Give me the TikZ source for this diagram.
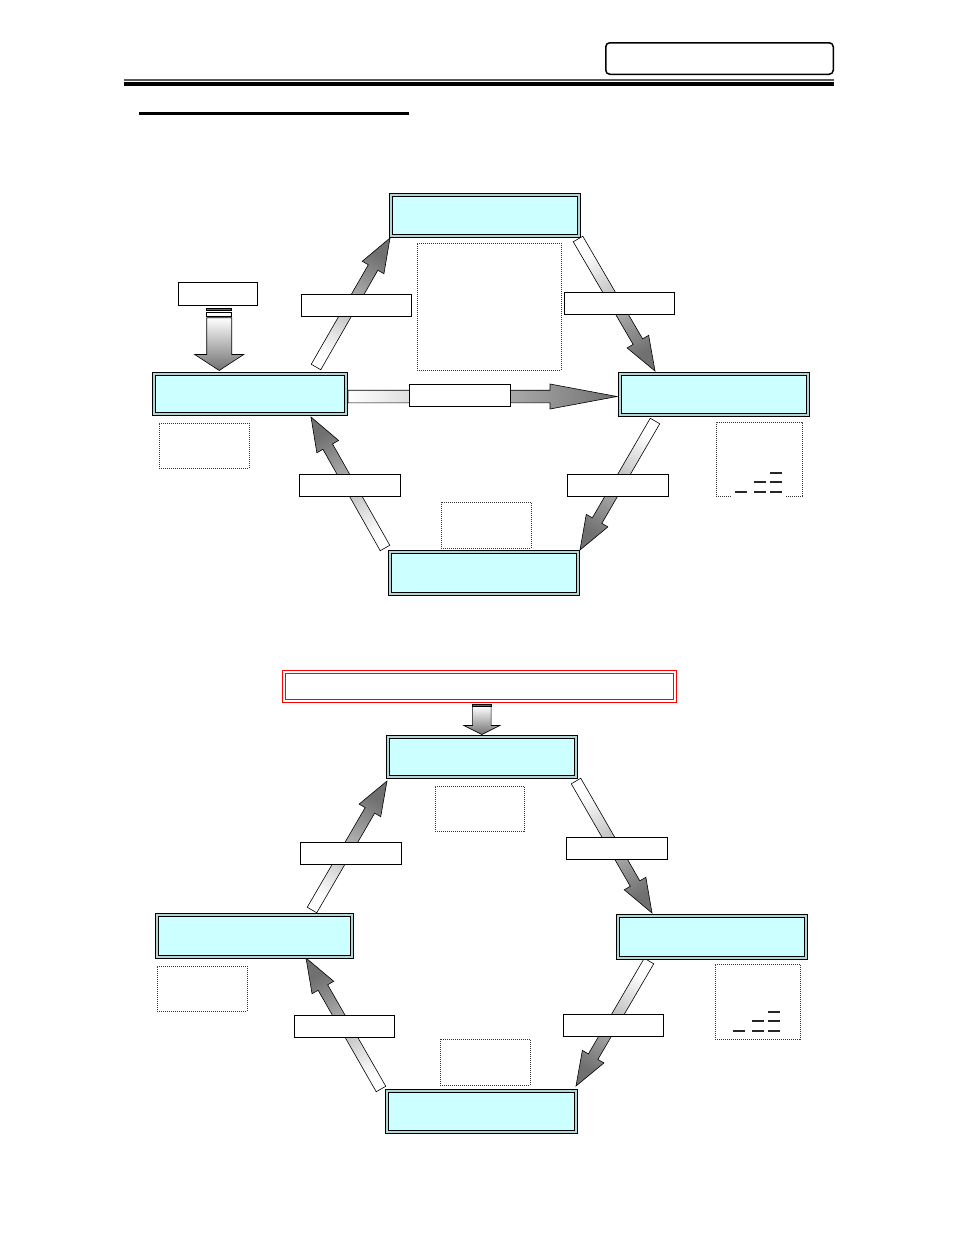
\documentclass[tikz,border=0pt]{standalone}
\usetikzlibrary{calc}
\definecolor{boxcyan}{HTML}{CCFFFF}
\definecolor{gapcyan}{HTML}{B4D6D6}
\definecolor{arrhead}{HTML}{707070}
\tikzset{
  stagebox/.style={draw=black, line width=1.3pt, double=gapcyan, double distance=1.5pt,
    fill=boxcyan, inner sep=0pt},
  redbox/.style={draw=red, line width=1.1pt, double=white, double distance=1.8pt,
    fill=white, inner sep=0pt},
  labelbox/.style={draw=black, line width=1.2pt, fill=white, inner sep=0pt},
  dotbox/.style={draw=black!80, line width=1pt, dash pattern=on 1pt off 1pt, inner sep=0pt},
  dotline/.style={draw=black!80, line width=1pt, dash pattern=on 1pt off 1pt},
  levelbar/.style={draw=black!85, line width=2.2pt},
}
\newcommand\blockarrow[6]{%
  \coordinate (hb) at ($(#2)!#5!(#1)$);
  \draw[line width=0.6pt, top color=arrhead, bottom color=white, shading angle=#6]
    ($(#1)!#3!90:(#2)$) -- ($(hb)!#3!90:(#2)$) -- ($(hb)!#4!90:(#2)$) -- (#2)
    -- ($(hb)!#4!-90:(#2)$) -- ($(hb)!#3!-90:(#2)$) -- ($(#1)!#3!-90:(#2)$) -- cycle;
}
\begin{document}
\begin{tikzpicture}[x=1pt,y=-1pt]
\useasboundingbox (0,0) rectangle (954,1235);
\fill[white] (0,0) rectangle (954,1235);

% ---------- header ----------
\node[draw, line width=1.5pt, rounded corners=4pt, minimum width=227.5pt, minimum height=31.5pt, inner sep=0pt] (hdr) at (719.5,58.5) {};
\draw[line width=1.7pt, black!65] (124,79.8) -- (834,79.8);
\draw[line width=4pt] (124,83.7) -- (834,83.7);
\draw[line width=2.3pt] (139,113.5) -- (409,113.5);

% ---------- upper cycle: coordinates ----------
\coordinate (t1) at (316,367);   \coordinate (h1) at (390,238);
\coordinate (t2) at (578,239);   \coordinate (h2) at (655,371);
\coordinate (t3) at (655,421);   \coordinate (h3) at (580,550);
\coordinate (t4) at (385,548);   \coordinate (h4) at (311,417);
\coordinate (t5) at (348,396.5); \coordinate (h5) at (617,396.5);
\coordinate (t6) at (219.2,317.7); \coordinate (h6) at (219.2,370.5);

% arrows
\blockarrow{t1}{h1}{5.5pt}{12.5pt}{34pt}{-29.8}
\blockarrow{t2}{h2}{5.5pt}{12.5pt}{34pt}{-149.7}
\blockarrow{t3}{h3}{5.5pt}{12.5pt}{34pt}{149.8}
\blockarrow{t4}{h4}{5.5pt}{12.5pt}{34pt}{29.5}
\blockarrow{t5}{h5}{6.3pt}{12.5pt}{67pt}{-90}
\blockarrow{t6}{h6}{12.5pt}{24.5pt}{16pt}{-180}
\draw[line width=0.6pt, fill=black!60] (206.7,308) rectangle (231.7,310.3);
\draw[line width=0.6pt, fill=white] (206.7,312.3) rectangle (231.7,316);

% stage boxes
\node[stagebox, minimum width=188pt, minimum height=41pt] (A) at (485,215.5) {};
\node[stagebox, minimum width=192pt, minimum height=40pt] (B) at (250,394) {};
\node[stagebox, minimum width=188pt, minimum height=41pt] (C) at (714,394.5) {};
\node[stagebox, minimum width=188pt, minimum height=42pt] (D) at (484,573) {};

% dotted boxes
\node[dotbox, minimum width=144pt, minimum height=127pt] (p1) at (489,306.5) {};
\node[dotbox, minimum width=90pt, minimum height=45pt] (p2) at (204,445.5) {};
\node[dotbox, minimum width=90pt, minimum height=46pt] (p4) at (486,525) {};
\draw[dotline] (731,496) -- (716,496) -- (716,422) -- (802,422) -- (802,496) -- (785,496);
\draw[levelbar] (770,473) -- (782,473);
\draw[levelbar] (754,482) -- (766,482);
\draw[levelbar] (770,482) -- (782,482);
\draw[levelbar] (735,492) -- (747,492);
\draw[levelbar] (754,492) -- (766,492);
\draw[levelbar] (770,492) -- (782,492);

% label boxes
\node[labelbox, minimum width=78.8pt, minimum height=22.8pt] (l0) at (218,294) {};
\node[labelbox, minimum width=109.8pt, minimum height=21.8pt] (l1) at (356.5,305.5) {};
\node[labelbox, minimum width=109.8pt, minimum height=21.8pt] (l2) at (619.5,303.5) {};
\node[labelbox, minimum width=100.8pt, minimum height=21.8pt] (l3) at (460,395.5) {};
\node[labelbox, minimum width=100.8pt, minimum height=21.8pt] (l4) at (618,485.5) {};
\node[labelbox, minimum width=100.8pt, minimum height=21.8pt] (l5) at (350,485.5) {};

% ---------- lower cycle ----------
\node[redbox, minimum width=391pt, minimum height=29pt] (R) at (479.5,686.5) {};

\coordinate (t7) at (312,910);    \coordinate (h7) at (387,781);
\coordinate (t8) at (576,781);    \coordinate (h8) at (652,913);
\coordinate (t9) at (649,961);    \coordinate (h9) at (576,1086);
\coordinate (t10) at (381,1089);  \coordinate (h10) at (306,958);
\coordinate (t11) at (481.85,706.3); \coordinate (h11) at (481.85,734.5);

\blockarrow{t7}{h7}{5.5pt}{12.5pt}{34pt}{-30.2}
\blockarrow{t8}{h8}{5.5pt}{12.5pt}{34pt}{-150}
\blockarrow{t9}{h9}{5.5pt}{12.5pt}{34pt}{149.7}
\blockarrow{t10}{h10}{5.5pt}{12.5pt}{34pt}{29.8}
\blockarrow{t11}{h11}{9.2pt}{18pt}{9pt}{-180}
\draw[line width=0.6pt, fill=black!60] (472.7,704) rectangle (491,706.3);

\node[stagebox, minimum width=188pt, minimum height=40pt] (A2) at (482,757) {};
\node[stagebox, minimum width=195pt, minimum height=42pt] (B2) at (254.5,936) {};
\node[stagebox, minimum width=188pt, minimum height=42pt] (C2) at (712,937) {};
\node[stagebox, minimum width=189pt, minimum height=41pt] (D2) at (481.5,1111.5) {};

\node[dotbox, minimum width=89pt, minimum height=45pt] (q1) at (479.5,808.5) {};
\node[dotbox, minimum width=90pt, minimum height=45pt] (q2) at (202,988.5) {};
\node[dotbox, minimum width=85pt, minimum height=75pt] (q3) at (757.5,1001.5) {};
\node[dotbox, minimum width=90pt, minimum height=46pt] (q4) at (485,1062) {};
\draw[levelbar] (768,1012) -- (780,1012);
\draw[levelbar] (752,1021) -- (764,1021);
\draw[levelbar] (768,1021) -- (780,1021);
\draw[levelbar] (733,1031) -- (745,1031);
\draw[levelbar] (752,1031) -- (764,1031);
\draw[levelbar] (768,1031) -- (780,1031);

\node[labelbox, minimum width=100.8pt, minimum height=21.8pt] (m1) at (351,853.5) {};
\node[labelbox, minimum width=100.8pt, minimum height=21.8pt] (m2) at (617,848.5) {};
\node[labelbox, minimum width=99.8pt, minimum height=21.8pt] (m3) at (344.5,1026.5) {};
\node[labelbox, minimum width=99.8pt, minimum height=21.8pt] (m4) at (613.5,1025.5) {};
\end{tikzpicture}
\end{document}
